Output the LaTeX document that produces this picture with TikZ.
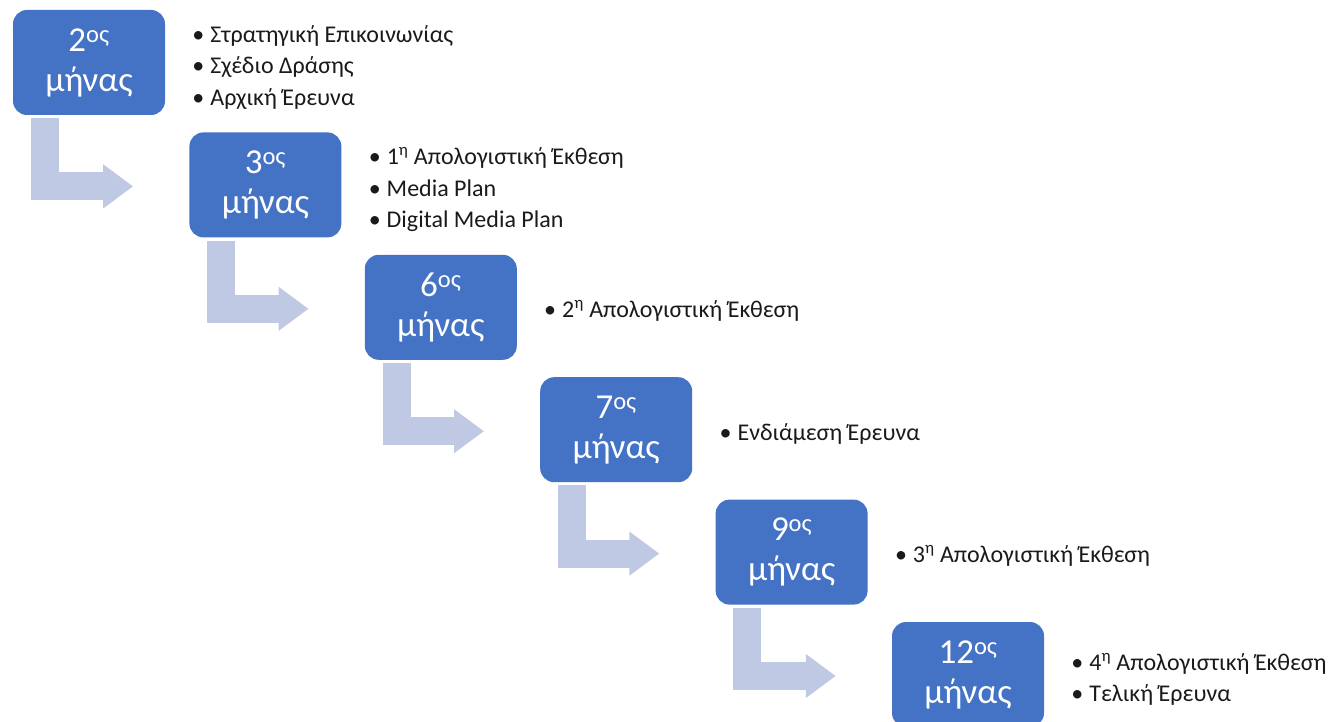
\documentclass[tikz,border=0pt]{standalone}
\usepackage{fontspec}
\setmainfont{Carlito}
\usetikzlibrary{calc,positioning,arrows.meta}
\definecolor{monthblue}{HTML}{4472C4}
\definecolor{arrowblue}{HTML}{C0C9E4}
\definecolor{tasktext}{HTML}{1A1A1A}
\tikzset{
  % month box
  month/.style = {
    fill=monthblue, rounded corners=14pt,
    minimum width=152pt, minimum height=105pt,
    inner sep=0pt, text=white, align=center,
    font=\fontsize{35}{40}\selectfont
  },
  % list next to a box
  tasks/.style = {
    anchor=west, align=left, inner sep=0pt, text=tasktext,
    font=\fontsize{24}{31.5}\selectfont
  },
  % bent arrow
  step arrow/.style = {
    draw=arrowblue, line width=28pt, line join=miter,
    -{Triangle[width=42pt,length=30pt]}
  },
}
\def\bul{\textbullet\hspace{6pt}}
\def\nd#1{#1\textsuperscript{η}}

\begin{document}
\begin{tikzpicture}[x=1pt,y=-1pt]
\useasboundingbox (0,0) rectangle (1332,722);

\node[month] (m2) at (89,62.5) {2\textsuperscript{ος}\\μήνας};
\node[month, below right=17pt and 24pt of m2] (m3) {3\textsuperscript{ος}\\μήνας};
\node[month, below right=17pt and 23pt of m3] (m6) {6\textsuperscript{ος}\\μήνας};
\node[month, below right=17pt and 23pt of m6] (m7) {7\textsuperscript{ος}\\μήνας};
\node[month, below right=17pt and 23pt of m7] (m9) {9\textsuperscript{ος}\\μήνας};
\node[month, below right=17pt and 24pt of m9] (m12) {12\textsuperscript{ος}\\μήνας};

%---------------------------------------------
\node[tasks, right=27pt of m2, yshift=-5pt] (t2)
  {\bul Στρατηγική Επικοινωνίας\\\bul Σχέδιο Δράσης\\\bul Αρχική Έρευνα};
\node[tasks, right=27pt of m3, yshift=-5pt] (t3)
  {\bul\nd{1} Απολογιστική Έκθεση\\\bul Media Plan\\\bul Digital Media Plan};
\node[tasks, right=27pt of m6, yshift=-4pt] (t6) {\bul\nd{2} Απολογιστική Έκθεση};
\node[tasks, right=27pt of m7, yshift=-4pt] (t7) {\bul Ενδιάμεση Έρευνα};
\node[tasks, right=27pt of m9, yshift=-4pt] (t9) {\bul\nd{3} Απολογιστική Έκθεση};
\node[tasks, right=27pt of m12, yshift=-5pt] (t12)
  {\bul\nd{4} Απολογιστική Έκθεση\\\bul Τελική Έρευνα};

%---------------------------------------------
\foreach \a/\b in {m2/m3,m3/m6,m6/m7,m7/m9,m9/m12}
  \draw[step arrow] ($(\a.south west)+(32,3)$) |- ($(\b.west)+(-56,1.5)$);

\end{tikzpicture}
\end{document}
